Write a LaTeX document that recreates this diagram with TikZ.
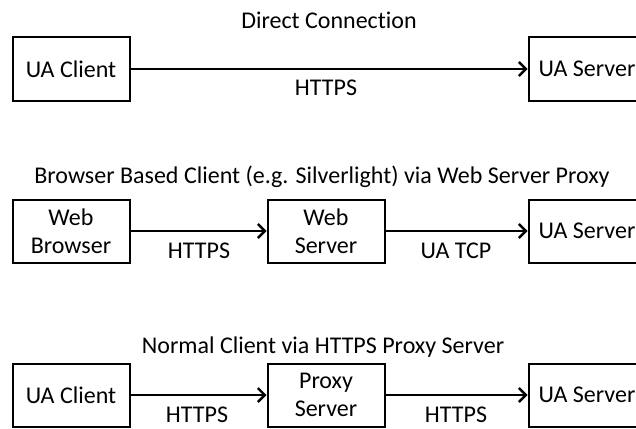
\documentclass[tikz,border=0pt]{standalone}
\usepackage{fontspec}
\setmainfont{Carlito}[Ligatures=NoCommon]
\usetikzlibrary{arrows.meta}
\begin{document}
\begin{tikzpicture}[x=1pt,y=-1pt,
  every node/.style={font=\fontsize{24}{28}\selectfont, inner sep=0pt},
  box/.style={draw=black, line width=2pt, minimum width=117pt, minimum height=63pt, align=center},
  conn/.style={line width=2.6pt, -{Straight Barb[length=7pt,width=14pt,line width=2.4pt]}},
  lbl/.style={}]
\useasboundingbox (0,0) rectangle (636,428);
% Row 1
\node[lbl] (t1) at (329,20) {Direct Connection};
\node[box] (c1) at (71,69) {UA Client};
\node[box] (s1) at (587,69) {UA Server};
\draw[conn] (c1.east) -- (s1.west);
\node[lbl] (h1) at (326,88) {HTTPS};
% Row 2
\node[lbl] (t2) at (322,177) {Browser Based Client (e.g. Silverlight) via Web Server Proxy};
\node[box] (b2) at (71,231) {Web\\Browser};
\node[box] (w2) at (326,231) {Web\\Server};
\node[box] (s2) at (587,231) {UA Server};
\draw[conn] (b2.east) -- (w2.west);
\draw[conn] (w2.east) -- (s2.west);
\node[lbl] (h2) at (199,251) {HTTPS};
\node[lbl] (u2) at (456,251) {UA TCP};
% Row 3
\node[lbl] (t3) at (323,347) {Normal Client via HTTPS Proxy Server};
\node[box] (c3) at (71,395) {UA Client};
\node[box] (p3) at (326,395) {Proxy\\Server};
\node[box] (s3) at (587,395) {UA Server};
\draw[conn] (c3.east) -- (p3.west);
\draw[conn] (p3.east) -- (s3.west);
\node[lbl] (h3) at (197,414.5) {HTTPS};
\node[lbl] (h4) at (456,414.5) {HTTPS};
\end{tikzpicture}
\end{document}
